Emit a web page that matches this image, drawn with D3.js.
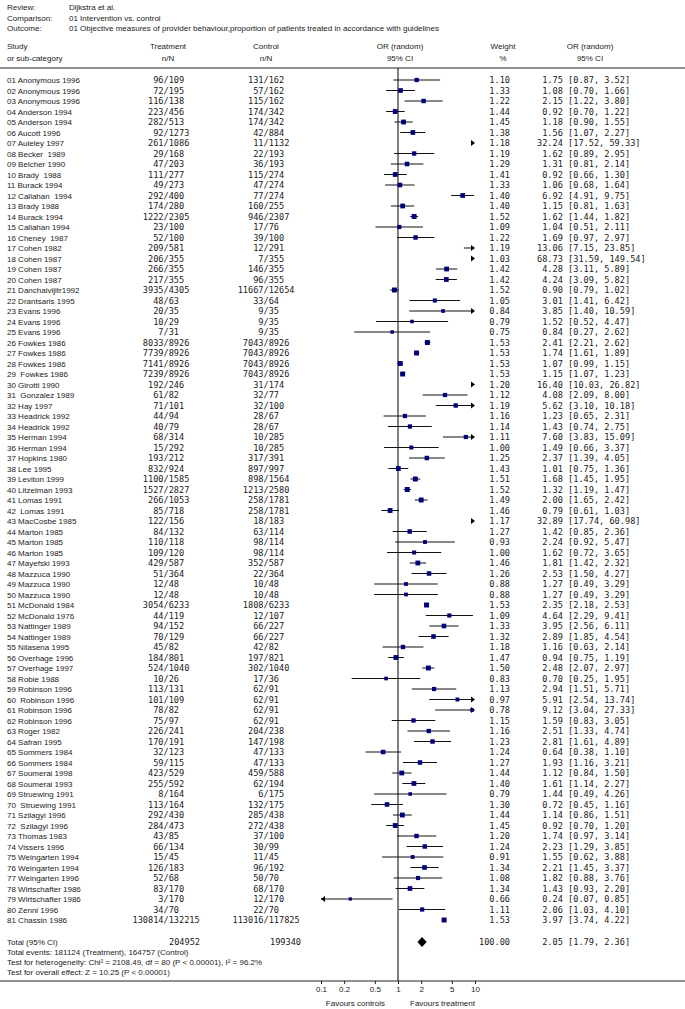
<!DOCTYPE html>
<html><head><meta charset="utf-8">
<script src="https://cdn.jsdelivr.net/npm/d3@7/dist/d3.min.js"></script>
<style>
body{margin:0;background:#fff;}
text{white-space:pre;}
</style></head>
<body><svg id="c" width="685" height="1009"></svg>
<script>
// ---------- data ----------
const studies = ["01 Anonymous 1996","02 Anonymous 1996","03 Anonymous 1996","04 Anderson 1994","05 Anderson 1994","06 Aucott 1996","07 Auleley 1997","08 Becker  1989","09 Belcher 1990","10 Brady  1988","11 Burack 1994","12 Callahan  1994","13 Brady 1988","14 Burack 1994","15 Callahan 1994","16 Cheney  1987","17 Cohen 1982","18 Cohen 1987","19 Cohen 1987","20 Cohen 1987","21 Danchaivijitr1992","22 Drantsaris 1995","23 Evans 1996","24 Evans 1996","25 Evans 1996","26 Fowkes 1986","27 Fowkes 1986","28 Fowkes 1986","29  Fowkes 1986","30 Girotti 1990","31  Gonzalez 1989","32 Hay 1997","33 Headrick 1992","34 Headrick 1992","35 Herman 1994","36 Herman 1994","37 Hopkins 1980","38 Lee 1995","39 Leviton 1999","40 Litzelman 1993","41 Lomas 1991","42  Lomas 1991","43 MacCosbe 1985","44 Marton 1985","45 Marton 1985","46 Marton 1985","47 Mayefski 1993","48 Mazzuca 1990","49 Mazzuca 1990","50 Mazzuca 1990","51 McDonald 1984","52 McDonald 1976","53 Nattinger 1989","54 Nattinger 1989","55 Nilasena 1995","56 Overhage 1996","57 Overhage 1997","58 Robie 1988","59 Robinson 1996","60  Robinson 1996","61 Robinson 1996","62 Robinson 1996","63 Roger 1982","64 Safran 1995","65 Sommers 1984","66 Sommers 1984","67 Soumerai 1998","68 Soumerai 1993","69 Struewing 1991","70  Struewing 1991","71 Szilagyi 1996","72  Szilagyi 1996","73 Thomas 1983","74 Vissers 1996","75 Weingarten 1994","76 Weingarten 1994","77 Weingarten 1996","78 Wirtschafter 1986","79 Wirtschafter 1986","80 Zenni 1996","81 Chassin 1986"];
const treatEvents = [96,72,116,223,282,92,261,29,47,111,49,292,174,1222,23,52,209,206,266,217,3935,48,20,10,7,8033,7739,7141,7239,192,61,71,44,40,68,15,193,832,1100,1527,266,85,122,84,110,109,429,51,12,12,3054,44,94,70,45,184,524,10,113,101,78,75,226,170,32,59,423,255,8,113,292,284,43,66,15,126,52,83,3,34,130814];
const treatTotal = [109,195,138,456,513,1273,1086,168,203,277,273,400,280,2305,100,100,581,355,355,355,4305,63,35,29,31,8926,8926,8926,8926,246,82,101,94,79,314,292,212,924,1585,2827,1053,718,156,132,118,120,587,364,48,48,6233,119,152,129,82,801,1040,26,131,109,82,97,241,191,123,115,529,592,164,164,430,473,85,134,45,183,68,170,170,70,132215];
const ctrlEvents = [131,57,115,174,174,42,11,22,36,115,47,77,160,946,17,39,12,7,146,96,11667,33,9,9,9,7043,7043,7043,7043,31,32,32,28,28,10,10,317,897,898,1213,258,258,18,63,98,98,352,22,10,10,1808,12,66,66,42,197,302,17,62,62,62,62,204,147,47,47,459,62,6,132,285,272,37,30,11,96,50,68,12,22,113016];
const ctrlTotal = [162,162,162,342,342,884,1132,193,193,274,274,274,255,2307,76,100,291,355,355,355,12654,64,35,35,35,8926,8926,8926,8926,174,77,100,67,67,285,285,391,997,1564,2580,1781,1781,183,114,114,114,587,364,48,48,6233,107,227,227,82,821,1040,36,91,91,91,91,238,198,133,133,588,194,175,175,438,438,100,99,45,192,70,170,170,70,117825];
const weights = [1.10,1.33,1.22,1.44,1.45,1.38,1.18,1.19,1.29,1.41,1.33,1.40,1.40,1.52,1.09,1.22,1.19,1.03,1.42,1.42,1.52,1.05,0.84,0.79,0.75,1.53,1.53,1.53,1.53,1.20,1.12,1.19,1.16,1.14,1.11,1.00,1.25,1.43,1.51,1.52,1.49,1.46,1.17,1.27,0.93,1.00,1.46,1.26,0.88,0.88,1.53,1.09,1.33,1.32,1.18,1.47,1.50,0.83,1.13,0.97,0.78,1.15,1.16,1.23,1.24,1.27,1.44,1.40,0.79,1.30,1.44,1.45,1.20,1.24,0.91,1.34,1.08,1.34,0.66,1.11,1.53];
const orEst = [1.75,1.08,2.15,0.92,1.18,1.56,32.24,1.62,1.31,0.92,1.06,6.92,1.15,1.62,1.04,1.69,13.06,68.73,4.28,4.24,0.90,3.01,3.85,1.52,0.84,2.41,1.74,1.07,1.15,16.40,4.08,5.62,1.23,1.43,7.60,1.49,2.37,1.01,1.68,1.32,2.00,0.79,32.89,1.42,2.24,1.62,1.81,2.53,1.27,1.27,2.35,4.64,3.95,2.89,1.16,0.94,2.48,0.70,2.94,5.91,9.12,1.59,2.51,2.81,0.64,1.93,1.12,1.61,1.44,0.72,1.14,0.92,1.74,2.23,1.55,2.21,1.82,1.43,0.24,2.06,3.97];
const orLo = [0.87,0.70,1.22,0.70,0.90,1.07,17.52,0.89,0.81,0.66,0.68,4.91,0.81,1.44,0.51,0.97,7.15,31.59,3.11,3.09,0.79,1.41,1.40,0.52,0.27,2.21,1.61,0.99,1.07,10.03,2.09,3.10,0.65,0.74,3.83,0.66,1.39,0.75,1.45,1.19,1.65,0.61,17.74,0.85,0.92,0.72,1.42,1.50,0.49,0.49,2.18,2.29,2.56,1.85,0.63,0.75,2.07,0.25,1.51,2.54,3.04,0.83,1.33,1.61,0.38,1.16,0.84,1.14,0.49,0.45,0.86,0.70,0.97,1.29,0.62,1.45,0.88,0.93,0.07,1.03,3.74];
const orHi = [3.52,1.66,3.80,1.22,1.55,2.27,59.33,2.95,2.14,1.30,1.64,9.75,1.63,1.82,2.11,2.97,23.85,149.54,5.89,5.82,1.02,6.42,10.59,4.47,2.62,2.62,1.89,1.15,1.23,26.82,8.00,10.18,2.31,2.75,15.09,3.37,4.05,1.36,1.95,1.47,2.42,1.03,60.98,2.36,5.47,3.65,2.32,4.27,3.29,3.29,2.53,9.41,6.11,4.54,2.14,1.19,2.97,1.95,5.71,13.74,27.33,3.05,4.74,4.89,1.10,3.21,1.50,2.27,4.26,1.16,1.51,1.20,3.14,3.85,3.88,3.37,3.76,2.20,0.85,4.10,4.22];
const total = {treatN: 204952, ctrlN: 199340, weight: 100.00, est: 2.05, lo: 1.79, hi: 2.36};
const tickValues = [0.1, 0.2, 0.5, 1, 2, 5, 10];
const tickLabels = ["0.1", "0.2", "0.5", "1", "2", "5", "10"];
const headerInfo = [["Review:", "Dijkstra et al."], ["Comparison:", "01 Intervention vs. control"], ["Outcome:", "01 Objective measures of provider behaviour,proportion of patients treated in accordance with guidelines"]];
const footLines = ["Total events: 181124 (Treatment), 164757 (Control)", "Test for heterogeneity: Chi\u00B2 = 2108.49, df = 80 (P < 0.00001), I\u00B2 = 96.2%", "Test for overall effect: Z = 10.25 (P < 0.00001)"];

// ---------- layout ----------
const W = 685;
const sans = "Liberation Sans, Arial, sans-serif";
const mono = "DejaVu Sans Mono, monospace";
const fsSans = 8, fsMono = 8.6;
const txt = "#1a1a1a";
const row0 = 80, rowH = 10.5;
const topLine = 68, axisY = 981;
const tSlash = 163.5, cSlash = 263.5;
const wRight = 510, orLeft = 537;

const svg = d3.select("#c");
const x = d3.scaleLog().domain([0.1, 10]).range([321, 475]);
const y = i => row0 + i * rowH;

function t(xp, yp, s, opt = {}) {
  return svg.append("text").attr("x", xp).attr("y", yp).text(s)
    .attr("font-family", opt.mono ? mono : sans)
    .attr("font-size", opt.mono ? fsMono : fsSans)
    .attr("fill", txt)
    .attr("text-anchor", opt.anchor || "start");
}

// title block
headerInfo.forEach((h, i) => {
  const yy = 7 + i * 10.5 + 3;
  t(7, yy, h[0]);
  t(69, yy, h[1]);
});

// column headers
t(7, 49, "Study"); t(7, 61, "or sub-category");
t(168, 49, "Treatment", {anchor: "middle"}); t(168, 61, "n/N", {anchor: "middle"});
t(266, 49, "Control", {anchor: "middle"}); t(266, 61, "n/N", {anchor: "middle"});
t(400, 49, "OR (random)", {anchor: "middle"}); t(400, 61, "95% CI", {anchor: "middle"});
t(503, 49, "Weight", {anchor: "middle"}); t(503, 61, "%", {anchor: "middle"});
t(590, 49, "OR (random)", {anchor: "middle"}); t(590, 61, "95% CI", {anchor: "middle"});

svg.append("line").attr("x1", 0).attr("x2", W).attr("y1", topLine).attr("y2", topLine)
  .attr("stroke", "#222").attr("stroke-width", 1);

// null line
svg.append("line").attr("x1", x(1)).attr("x2", x(1)).attr("y1", topLine).attr("y2", axisY)
  .attr("stroke", "#000").attr("stroke-width", 1);

const fmt2 = d3.format(".2f");
const pad = (s, n) => (" ".repeat(Math.max(0, n - s.length))) + s;

const [xmin, xmax] = x.range();
studies.forEach((s, i) => {
  const yy = y(i);
  const by = yy + 3;
  t(7, by, s);
  t(tSlash, by, String(treatEvents[i]), {mono: true, anchor: "end"});
  t(tSlash, by, "/" + treatTotal[i], {mono: true});
  t(cSlash, by, String(ctrlEvents[i]), {mono: true, anchor: "end"});
  t(cSlash, by, "/" + ctrlTotal[i], {mono: true});
  t(wRight, by, fmt2(weights[i]), {mono: true, anchor: "end"});
  t(orLeft, by, pad(fmt2(orEst[i]), 5) + " [" + fmt2(orLo[i]) + ", " + fmt2(orHi[i]) + "]", {mono: true});

  const lo = orLo[i], hi = orHi[i], est = orEst[i];
  const x1 = Math.max(xmin, x(Math.max(lo, 0.1))), x2 = Math.min(xmax, x(Math.min(hi, 10)));
  if (lo < 10 && hi > 0.1) {
    svg.append("line").attr("x1", x1).attr("x2", hi > 10 ? xmax - 3 : x2).attr("y1", yy).attr("y2", yy)
      .attr("stroke", "#111").attr("stroke-width", 1);
  }
  if (hi > 10) {
    svg.append("path").attr("d", `M${xmax},${yy} L${xmax - 4},${yy - 3} L${xmax - 4},${yy + 3} Z`).attr("fill", "#000");
  }
  if (lo < 0.1) {
    svg.append("path").attr("d", `M${xmin},${yy} L${xmin + 4},${yy - 3} L${xmin + 4},${yy + 3} Z`).attr("fill", "#000");
  }
  if (est >= 0.1 && est <= 10) {
    const side = 4 * Math.sqrt(weights[i]);
    svg.append("rect").attr("x", x(est) - side / 2).attr("y", yy - side / 2)
      .attr("width", side).attr("height", side).attr("fill", "#00007a");
  }
});

// total row
const ty = 942;
t(7, ty + 3, "Total (95% CI)");
t(200, ty + 3, String(total.treatN), {mono: true, anchor: "end"});
t(301, ty + 3, String(total.ctrlN), {mono: true, anchor: "end"});
t(wRight, ty + 3, fmt2(total.weight), {mono: true, anchor: "end"});
t(orLeft, ty + 3, pad(fmt2(total.est), 5) + " [" + fmt2(total.lo) + ", " + fmt2(total.hi) + "]", {mono: true});
svg.append("path")
  .attr("d", `M${x(total.lo)},${ty} L${x(total.est)},${ty - 5} L${x(total.hi)},${ty} L${x(total.est)},${ty + 5} Z`)
  .attr("fill", "#000");
footLines.forEach((s, i) => t(7, 952 + i * 10 + 3, s));

// axis
svg.append("line").attr("x1", 0).attr("x2", W).attr("y1", axisY).attr("y2", axisY)
  .attr("stroke", "#222").attr("stroke-width", 1);
const ax = svg.append("g").attr("transform", `translate(0,${axisY})`)
  .call(d3.axisBottom(x).tickValues(tickValues).tickFormat((d, i) => tickLabels[i]).tickSize(3).tickPadding(2));
ax.select(".domain").remove();
ax.selectAll("text").attr("font-family", sans).attr("font-size", fsSans).attr("fill", txt);
ax.selectAll("line").attr("stroke", "#222");

t(385, 1006, "Favours controls", {anchor: "end"});
t(410, 1006, "Favours treatment");
</script></body></html>
